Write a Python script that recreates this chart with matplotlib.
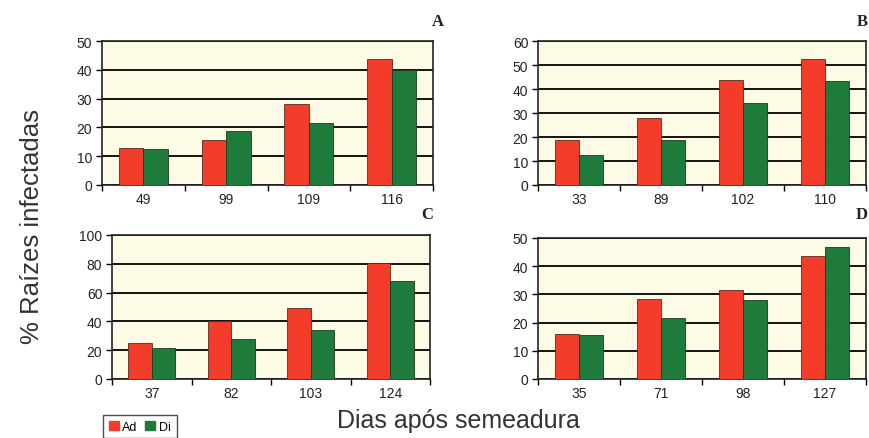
import numpy as np
import matplotlib
matplotlib.use("Agg")
import matplotlib.pyplot as plt
from matplotlib.patches import Rectangle

plt.rcParams["font.family"] = ["Liberation Sans", "DejaVu Sans"]

RED = "#f33d2a"
GREEN = "#1e7b3c"
CREAM = "#fdfbe6"

# days after sowing and % infected roots, one set per panel
days_a = ["49", "99", "109", "116"]
ad_a = [12.7, 15.6, 28.0, 43.7]
di_a = [12.6, 18.6, 21.4, 40.0]

days_b = ["33", "89", "102", "110"]
ad_b = [18.8, 27.8, 43.6, 52.6]
di_b = [12.6, 18.8, 34.2, 43.5]

days_c = ["37", "82", "103", "124"]
ad_c = [24.8, 40.2, 49.4, 80.8]
di_c = [21.8, 28.0, 33.9, 67.9]

days_d = ["35", "71", "98", "127"]
ad_d = [15.8, 28.3, 31.5, 43.6]
di_d = [15.6, 21.8, 28.0, 46.8]

W, H = 869, 439
fig = plt.figure(figsize=(W / 100, H / 100), dpi=100, facecolor="white")


def px_axes(x0, y0, x1, y1):
    return fig.add_axes([x0 / W, 1 - y1 / H, (x1 - x0) / W, (y1 - y0) / H])


def panel(rect, days, ad, di, ymax, step, letter, letter_xy):
    ax = px_axes(*rect)
    ax.set_facecolor(CREAM)
    x = np.arange(len(days))
    bw = 0.295
    ax.bar(x - bw / 2, ad, bw, color=RED, edgecolor="#5a2a20", linewidth=0.6, zorder=3)
    ax.bar(x + bw / 2, di, bw, color=GREEN, edgecolor="#1a3a22", linewidth=0.6, zorder=3)
    ax.set_xlim(-0.5, len(days) - 0.5)
    ax.set_ylim(0, ymax)
    ax.set_yticks(np.arange(0, ymax + 1, step))
    ax.yaxis.grid(True, color="black", linewidth=1.3, zorder=1)
    ax.set_axisbelow(True)
    ax.set_xticks(x)
    ax.set_xticklabels(days)
    ax.set_xticks(np.arange(-0.5, len(days)), minor=True)
    ax.tick_params(axis="x", which="major", length=0, pad=5, labelsize=10, labelcolor="#222")
    ax.tick_params(axis="x", which="minor", length=4, width=1.0, direction="out")
    ax.tick_params(axis="y", length=4, width=1.0, direction="out", pad=3,
                   labelsize=10, labelcolor="#222")
    for s in ax.spines.values():
        s.set_linewidth(1.2)
        s.set_color("#222")
    fig.text(letter_xy[0] / W, 1 - letter_xy[1] / H, letter, family="Liberation Serif",
             fontweight="bold", fontsize=12, ha="center", va="center", color="#222")
    return ax


panel((102, 42, 433, 186), days_a, ad_a, di_a, 50, 10, "A", (438, 22))
panel((538, 42, 866, 186), days_b, ad_b, di_b, 60, 10, "B", (862, 22))
panel((112, 236, 430, 380), days_c, ad_c, di_c, 100, 20, "C", (427, 215))
panel((538, 239, 866, 380), days_d, ad_d, di_d, 50, 10, "D", (862, 215))

fig.text(32 / W, 1 - 226 / H, "% Raízes infectadas", rotation=90, ha="center",
         va="center", fontsize=18.5, color="#333")
fig.text(458 / W, 1 - 421 / H, "Dias após semeadura", ha="center", va="center",
         fontsize=18, color="#333")

# legend box at the bottom left
fig.legend(handles=[Rectangle((0, 0), 1, 1, color=RED), Rectangle((0, 0), 1, 1, color=GREEN)],
           labels=["Ad", "Di"], loc="upper left", bbox_to_anchor=(103 / W, 1 - 416 / H),
           ncol=2, fontsize=9, frameon=True, fancybox=False, edgecolor="#222",
           handlelength=0.8, handleheight=0.8, handletextpad=0.3, columnspacing=0.6,
           borderpad=0.45, borderaxespad=0)

fig.savefig("out.png", dpi=100, facecolor="white")
